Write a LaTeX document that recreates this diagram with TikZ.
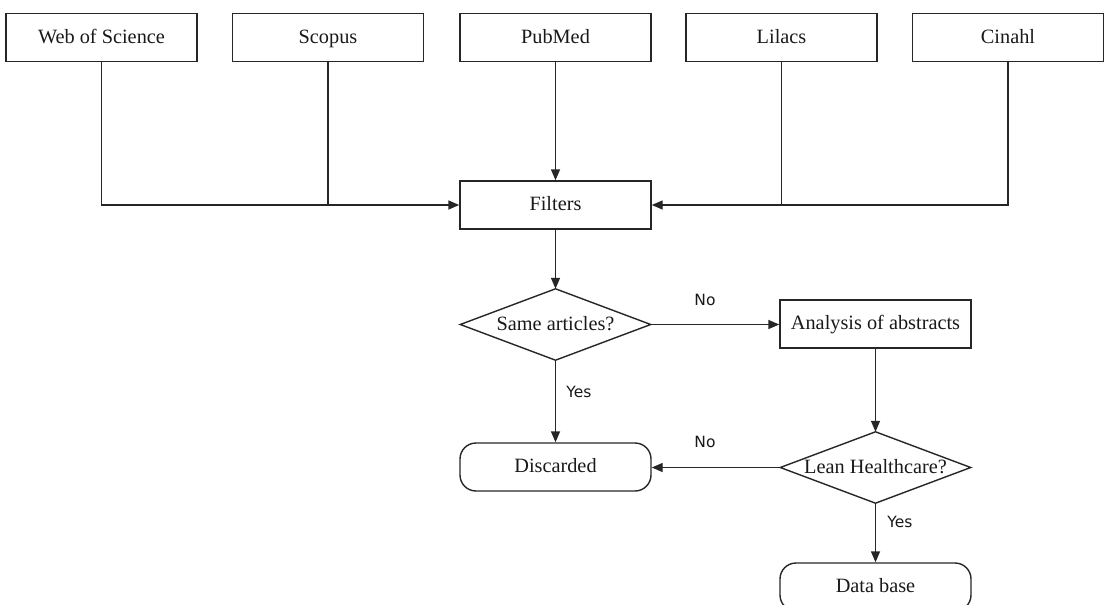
\documentclass[tikz,border=0pt]{standalone}
\usepackage{fontspec}
\setmainfont{Liberation Serif}
\newfontfamily\labfont{DejaVu Sans}
\usetikzlibrary{arrows.meta}
\begin{document}
\begin{tikzpicture}[x=1pt,y=-1pt,
  box/.style={draw=black!85, line width=1.4pt, minimum width=191pt, minimum height=48pt, inner sep=0pt, text height=14pt, text depth=3pt, text=black!90, font=\fontsize{20.3}{24}\selectfont},
  term/.style={box, rounded corners=16pt},
  dec/.style={minimum width=190pt, minimum height=71pt, inner sep=0pt, text height=14pt, text depth=3pt, text=black!90, font=\fontsize{20.3}{24}\selectfont},
  conn/.style={draw=black!85, line width=1.4pt},
  arr/.style={conn, -{Triangle[length=11pt,width=9pt]}},
  lab/.style={text=black!90, font=\labfont\fontsize{15.5}{18}\selectfont}]
\useasboundingbox (0,0) rectangle (1104,605);
\clip (0,0) rectangle (1104,605);
% top sources
\node[box] (wos) at (101.5,37.5) {Web of Science};
\node[box] (scopus) at (328,37.5) {Scopus};
\node[box] (pubmed) at (555.5,37.5) {PubMed};
\node[box] (lilacs) at (781.5,37.5) {Lilacs};
\node[box] (cinahl) at (1008,37.5) {Cinahl};
\node[box] (filters) at (555.5,205) {Filters};
% decisions
\node[dec] (same) at (555.5,324.5) {Same articles?};
\draw[conn] (same.west) -- (same.north) -- (same.east) -- (same.south) -- cycle;
\node[box] (abstracts) at (875.5,324) {Analysis of abstracts};
\node[term] (discarded) at (555.5,467) {Discarded};
\node[dec] (lean) at (875.5,467.5) {Lean Healthcare?};
\draw[conn] (lean.west) -- (lean.north) -- (lean.east) -- (lean.south) -- cycle;
\node[term] (database) at (875.5,587) {Data base};
% connectors
\draw[arr] (wos.south) |- (filters.west);
\draw[conn] (scopus.south) -- (scopus.south |- filters.west);
\draw[arr] (cinahl.south) |- (filters.east);
\draw[conn] (lilacs.south) -- (lilacs.south |- filters.east);
\draw[arr] (pubmed.south) -- (filters.north);
\draw[arr] (filters.south) -- (same.north);
\draw[arr] (same.east) -- (same.east -| abstracts.west);
\draw[arr] (same.south) -- (discarded.north);
\draw[arr] (abstracts.south) -- (lean.north);
\draw[arr] (lean.west) -- (lean.west -| discarded.east);
\draw[arr] (lean.south) -- (database.north);
% labels
\node[lab] (no1) at (705,300) {No};
\node[lab] (yes1) at (579,392) {Yes};
\node[lab] (no2) at (705,442) {No};
\node[lab] (yes2) at (900,522) {Yes};
\end{tikzpicture}
\end{document}
